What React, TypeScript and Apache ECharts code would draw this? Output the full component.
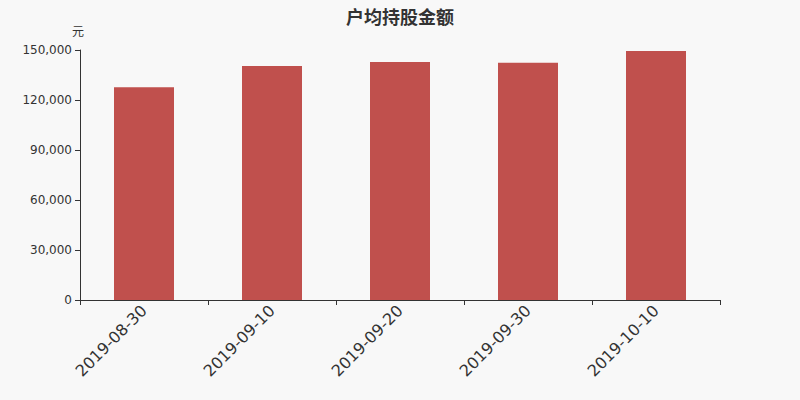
import { useEffect, useRef } from 'react';
import * as echarts from 'echarts';

const categories = ['2019-08-30', '2019-09-10', '2019-09-20', '2019-09-30', '2019-10-10'];
const values = [127600, 140400, 142800, 142400, 149400];

const LATIN = "'DejaVu Sans', sans-serif";
const CJK = "'Noto Sans CJK SC', sans-serif";

export default function App() {
  const el = useRef<HTMLDivElement>(null);

  useEffect(() => {
    if (!el.current) return;
    const chart = echarts.init(el.current, undefined, { renderer: 'svg' });
    chart.setOption({
      animation: false,
      backgroundColor: '#f8f8f8',
      title: {
        text: '户均持股金额',
        left: 'center',
        top: 2,
        textStyle: { fontSize: 18, fontWeight: 'bold', color: '#333', fontFamily: CJK },
      },
      grid: { left: 80, right: 80, top: 50, bottom: 100 },
      xAxis: {
        type: 'category',
        data: categories,
        axisLine: { lineStyle: { color: '#333' } },
        axisTick: { show: true, length: 5, lineStyle: { color: '#333' } },
        axisLabel: { rotate: 45, fontSize: 16, color: '#333', margin: 8, fontFamily: LATIN },
      },
      yAxis: {
        type: 'value',
        name: '元',
        nameGap: 14,
        nameTextStyle: { color: '#333', fontSize: 12, align: 'right', padding: [0, -4, 0, 0], fontFamily: CJK },
        min: 0,
        max: 150000,
        interval: 30000,
        splitLine: { show: false },
        axisLine: { show: true, lineStyle: { color: '#333' } },
        axisTick: { show: true, length: 5, lineStyle: { color: '#333' } },
        axisLabel: {
          color: '#333',
          fontSize: 12,
          margin: 8,
          fontFamily: LATIN,
          formatter: (v: number) => v.toLocaleString('en-US'),
        },
      },
      series: [
        {
          type: 'bar',
          data: values,
          barWidth: 60,
          itemStyle: { color: '#c0504d' },
        },
      ],
    });
    return () => chart.dispose();
  }, []);

  return <div ref={el} style={{ position: 'absolute', left: 0, top: 0, width: 800, height: 400 }} />;
}
